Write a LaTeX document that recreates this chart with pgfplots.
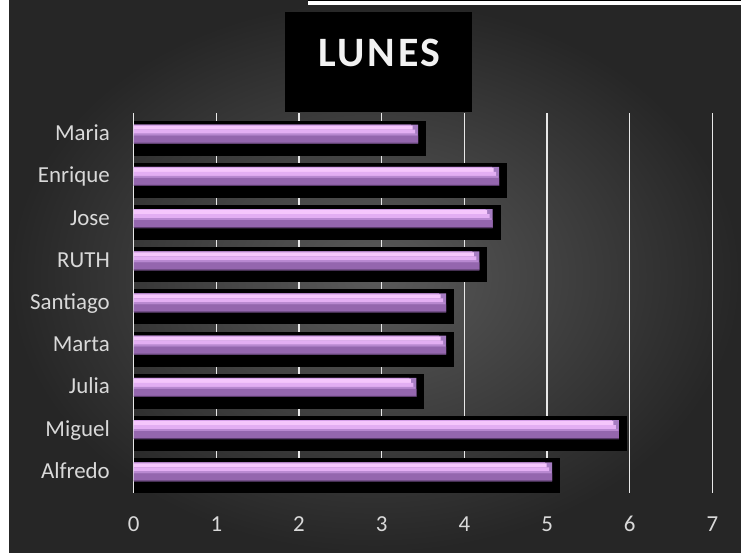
\documentclass[border=0pt]{standalone}
\usepackage{pgfplots}
\pgfplotsset{compat=1.18}
\usepackage{fontspec}
\setmainfont{Carlito}
\newfontfamily\titlefont{Carlito}[LetterSpace=6.5]
\definecolor{bgin}{HTML}{5A5A5A}
\definecolor{bgout}{HTML}{262626}
\definecolor{lab}{HTML}{D9D9D9}
\definecolor{titlec}{HTML}{F2F2F2}
\definecolor{gridc}{HTML}{E8E8E8}
\definecolor{pend}{HTML}{A67CC2}
\definecolor{pedge}{HTML}{D49EE8}
\definecolor{pbright}{HTML}{F5C6FC}
\definecolor{plight}{HTML}{E3AEF3}
\definecolor{ptrans}{HTML}{B888D0}
\definecolor{plow}{HTML}{9466AE}
\definecolor{pbot}{HTML}{5A3A6C}
\pgfplotstableread{
y v
1 5.06
2 5.87
3 3.42
4 3.78
5 3.78
6 4.18
7 4.34
8 4.42
9 3.44
}\lunes
\begin{document}
\begin{tikzpicture}[x=1bp,y=1bp]
\useasboundingbox (0,0) rectangle (741,553);
\fill[white] (0,0) rectangle (741,553);
\shade[inner color=bgin, outer color=bgout] (9,0) rectangle (741,553);
\fill[white] (308,548) rectangle (741,553);
\draw[black, line width=1bp] (308,552.3) -- (741,552.3);
\fill[black] (285,441) rectangle (472,541);
\node[anchor=base, text=titlec, font=\fontsize{42}{50}\titlefont\bfseries, inner sep=0pt] at (379.5,486.3) {LUNES};
\begin{axis}[
  at={(133.7bp,60bp)}, anchor=south west, scale only axis,
  width=578.7bp, height=380bp,
  xmin=0, xmax=7, ymin=0.5, ymax=9.5,
  axis line style={draw=none}, major tick length=0pt,
  xtick={0,1,2,3,4,5,6,7}, xticklabels={0,1,2,3,4,5,6,7},
  ytick={1,2,3,4,5,6,7,8,9},
  yticklabels={Alfredo,Miguel,Julia,Marta,Santiago,RUTH,Jose,Enrique,Maria},
  xmajorgrids, ymajorgrids=false,
  grid style={gridc, line width=1.5bp},
  ticklabel style={text=lab, font=\fontsize{23}{27}\selectfont},
  yticklabel style={anchor=base east, inner sep=0pt, xshift=-23.7bp, yshift=-6.5bp},
  xticklabel style={anchor=base, inner sep=0pt, yshift=-39bp},
  every axis plot/.append style={xbar, draw=none},
]
% black shadow
\addplot[fill=black, draw=black, line width=8bp, bar width=27bp, xshift=4bp, yshift=-4bp] table[x=v, y=y] {\lunes};
% purple bevelled bar, built from bands
\addplot[fill=pend, bar width=19bp] table[x=v, y=y] {\lunes};
\addplot[fill=pedge, bar width=1bp, yshift=9bp, xshift=-7bp] table[x=v, y=y] {\lunes};
\addplot[fill=pbright, bar width=4bp, yshift=6.5bp, xshift=-5.5bp] table[x=v, y=y] {\lunes};
\addplot[fill=plight, bar width=4bp, yshift=2.5bp, xshift=-3bp] table[x=v, y=y] {\lunes};
\addplot[fill=ptrans, bar width=2bp, yshift=-0.5bp, xshift=-1bp] table[x=v, y=y] {\lunes};
\addplot[fill=plow, bar width=7bp, yshift=-5bp] table[x=v, y=y] {\lunes};
\addplot[fill=pbot, bar width=1bp, yshift=-9bp] table[x=v, y=y] {\lunes};
\draw[gridc, line width=1.5bp] (axis cs:0,0.5) -- (axis cs:0,9.5);
\end{axis}
\end{tikzpicture}
\end{document}
